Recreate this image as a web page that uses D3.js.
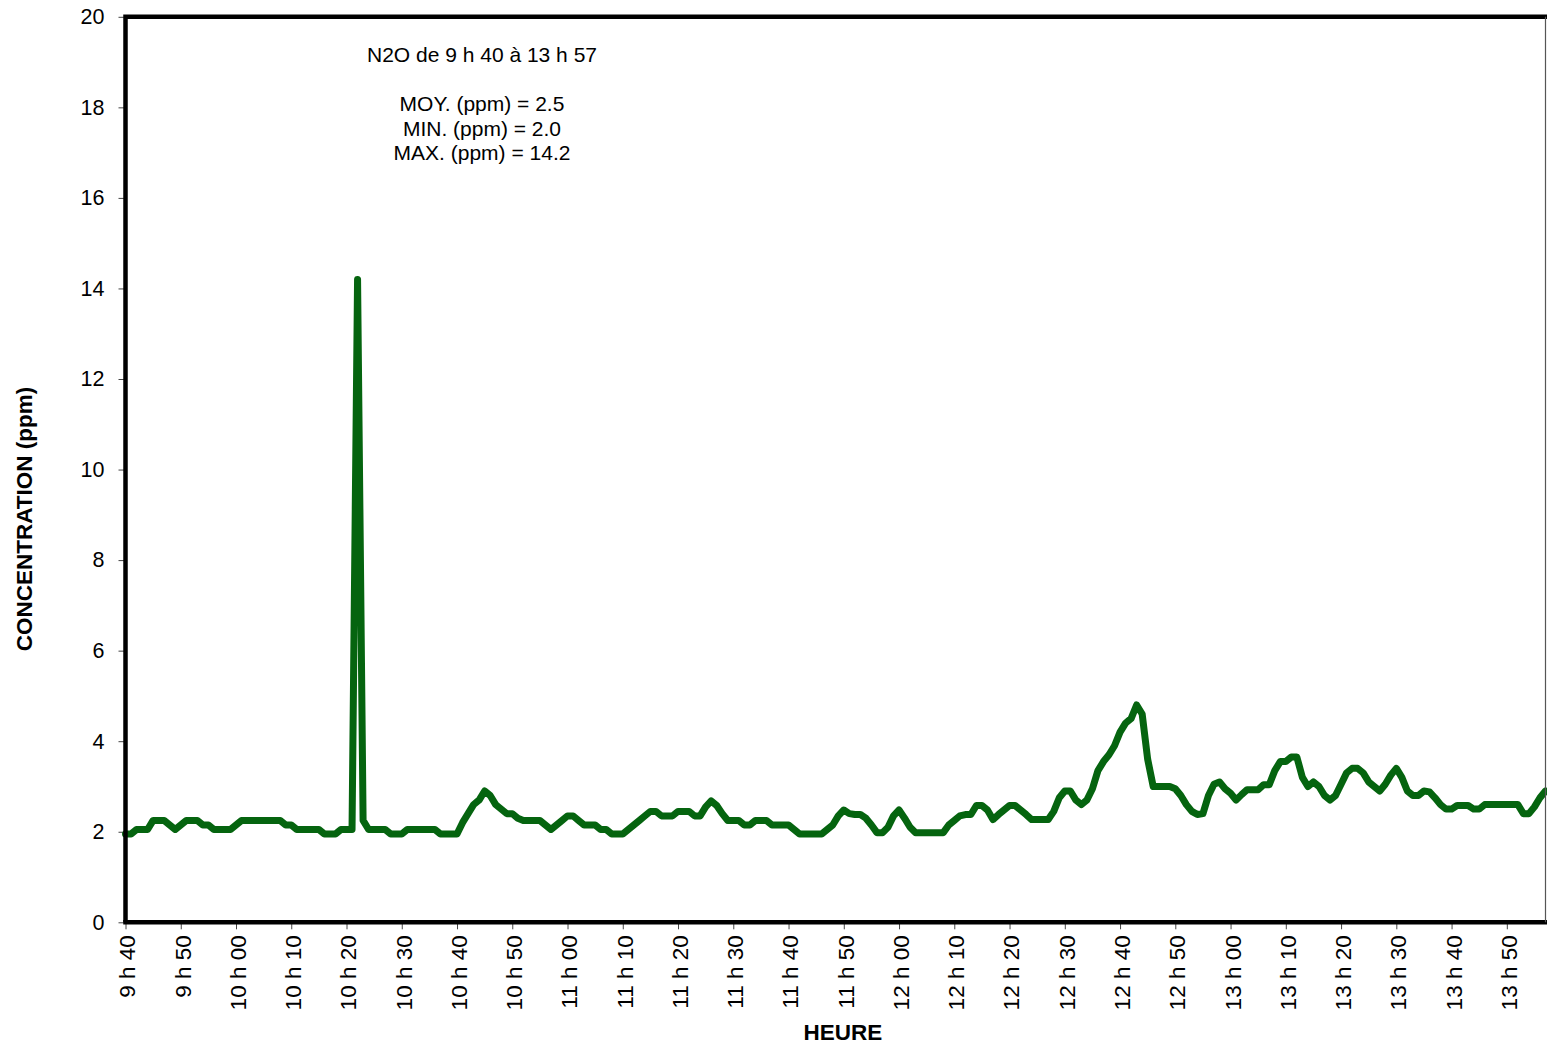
<!DOCTYPE html>
<html>
<head>
<meta charset="utf-8">
<script src="https://cdn.jsdelivr.net/npm/d3@7"></script>
<style>
  html, body { margin: 0; padding: 0; background: #fff; }
  svg { display: block; font-family: Arial, "Liberation Sans", sans-serif; }
</style>
</head>
<body>
<svg id="chart" width="1547" height="1047"></svg>
<script>
// N2O concentration (ppm), one reading per minute from 9 h 40 to 13 h 57
const n2o = [
  1.95,1.95,2.05,2.05,2.05,2.25,2.25,2.25,2.15,2.05,
  2.15,2.25,2.25,2.25,2.15,2.15,2.05,2.05,2.05,2.05,
  2.15,2.25,2.25,2.25,2.25,2.25,2.25,2.25,2.25,2.15,
  2.15,2.05,2.05,2.05,2.05,2.05,1.95,1.95,1.95,2.05,
  2.05,2.05,14.2,2.25,2.05,2.05,2.05,2.05,1.95,1.95,
  1.95,2.05,2.05,2.05,2.05,2.05,2.05,1.95,1.95,1.95,
  1.95,2.2,2.4,2.6,2.7,2.9,2.8,2.6,2.5,2.4,
  2.4,2.3,2.25,2.25,2.25,2.25,2.15,2.05,2.15,2.25,
  2.35,2.35,2.25,2.15,2.15,2.15,2.05,2.05,1.95,1.95,
  1.95,2.05,2.15,2.25,2.35,2.45,2.45,2.35,2.35,2.35,
  2.45,2.45,2.45,2.35,2.35,2.55,2.68,2.58,2.4,2.25,
  2.25,2.25,2.15,2.15,2.25,2.25,2.25,2.15,2.15,2.15,
  2.15,2.05,1.95,1.95,1.95,1.95,1.95,2.05,2.15,2.35,
  2.48,2.4,2.38,2.38,2.3,2.15,1.98,1.98,2.1,2.35,
  2.48,2.3,2.1,1.98,1.98,1.98,1.98,1.98,1.98,2.15,
  2.25,2.35,2.38,2.38,2.58,2.58,2.48,2.27,2.38,2.48,
  2.58,2.58,2.48,2.38,2.27,2.27,2.27,2.27,2.45,2.75,
  2.9,2.9,2.7,2.6,2.7,2.95,3.35,3.55,3.7,3.9,
  4.2,4.4,4.5,4.8,4.6,3.6,3.0,3.0,3.0,3.0,
  2.95,2.8,2.6,2.45,2.38,2.4,2.8,3.05,3.1,2.95,
  2.85,2.7,2.82,2.93,2.93,2.93,3.04,3.04,3.35,3.55,
  3.55,3.65,3.65,3.2,3.0,3.1,3.0,2.8,2.7,2.8,
  3.05,3.3,3.4,3.4,3.3,3.1,3.0,2.9,3.05,3.25,
  3.4,3.2,2.9,2.8,2.8,2.9,2.88,2.75,2.6,2.5,
  2.5,2.58,2.58,2.58,2.5,2.5,2.6,2.6,2.6,2.6,
  2.6,2.6,2.6,2.4,2.4,2.55,2.75,2.9
];

// Time labels, one every ten readings
const timeLabels = [
  "9 h 40","9 h 50","10 h 00","10 h 10","10 h 20","10 h 30","10 h 40","10 h 50",
  "11 h 00","11 h 10","11 h 20","11 h 30","11 h 40","11 h 50","12 h 00","12 h 10",
  "12 h 20","12 h 30","12 h 40","12 h 50","13 h 00","13 h 10","13 h 20","13 h 30",
  "13 h 40","13 h 50"
];
const labelStep = 10;

const yTicks = [0, 2, 4, 6, 8, 10, 12, 14, 16, 18, 20];

const summaryLines = [
  "N2O de 9 h 40 à 13 h 57",
  "",
  "MOY. (ppm) = 2.5",
  "MIN. (ppm) = 2.0",
  "MAX. (ppm) = 14.2"
];

const svg = d3.select("#chart");
const plot = { left: 125.5, right: 1545.5, top: 16.8, bottom: 922.3 };

const x = d3.scaleLinear().domain([0, n2o.length - 1]).range([plot.left, plot.right]);
const y = d3.scaleLinear().domain([0, 20]).range([plot.bottom, plot.top]);

// Y axis
const yAxis = svg.append("g")
  .attr("transform", `translate(${plot.left},0)`)
  .call(d3.axisLeft(y).tickValues(yTicks).tickSize(7).tickPadding(14).tickFormat(d3.format("d")));
yAxis.select(".domain").remove();
yAxis.selectAll("line").attr("stroke", "#444").attr("stroke-width", 1);
yAxis.selectAll("text").attr("font-size", 21.5).attr("fill", "#000")
  .attr("font-family", "Arial, 'Liberation Sans', sans-serif");

// X axis with vertical time labels
const xAxis = svg.append("g")
  .attr("transform", `translate(0,${plot.bottom})`)
  .call(d3.axisBottom(x)
    .tickValues(timeLabels.map((_, i) => i * labelStep))
    .tickSize(7)
    .tickFormat((d) => timeLabels[d / labelStep]));
xAxis.select(".domain").remove();
xAxis.selectAll("line").attr("stroke", "#444").attr("stroke-width", 1);
xAxis.selectAll("text")
  .attr("font-size", 22.5).attr("fill", "#000")
  .attr("font-family", "Arial, 'Liberation Sans', sans-serif")
  .attr("transform", "rotate(-90)")
  .attr("text-anchor", "end")
  .attr("x", -13)
  .attr("y", 0)
  .attr("dy", "0.42em");

// Concentration trace
const line = d3.line().x((d, i) => x(i)).y((d) => y(d));
svg.append("path")
  .datum(n2o)
  .attr("d", line)
  .attr("fill", "none")
  .attr("stroke", "#05640f")
  .attr("stroke-width", 7)
  .attr("stroke-linejoin", "round")
  .attr("stroke-linecap", "round");

// Plot frame: heavy left, top and bottom edges, thin right edge
const frame = svg.append("g").attr("fill", "none");
frame.append("path")
  .attr("d", `M${plot.left},${plot.bottom}V${plot.top}H1547`)
  .attr("stroke", "#000").attr("stroke-width", 4.5);
frame.append("path")
  .attr("d", `M${plot.left - 2.25},${plot.bottom}H1547`)
  .attr("stroke", "#000").attr("stroke-width", 4.5);
frame.append("path")
  .attr("d", `M${plot.right},${plot.top}V${plot.bottom}`)
  .attr("stroke", "#555").attr("stroke-width", 1.2);

// Summary block
const summary = svg.append("text")
  .attr("x", 482).attr("y", 62)
  .attr("text-anchor", "middle")
  .attr("font-size", 21)
  .attr("fill", "#000");
summaryLines.forEach((t, i) => {
  summary.append("tspan")
    .attr("x", 482)
    .attr("y", 62 + i * 24.5)
    .text(t);
});

// Axis titles
svg.append("text")
  .attr("transform", `translate(32,519) rotate(-90)`)
  .attr("text-anchor", "middle")
  .attr("font-size", 22.5)
  .attr("font-weight", "bold")
  .attr("fill", "#000")
  .text("CONCENTRATION (ppm)");

svg.append("text")
  .attr("x", 843).attr("y", 1040)
  .attr("text-anchor", "middle")
  .attr("font-size", 22.5)
  .attr("font-weight", "bold")
  .attr("fill", "#000")
  .text("HEURE");
</script>
</body>
</html>
